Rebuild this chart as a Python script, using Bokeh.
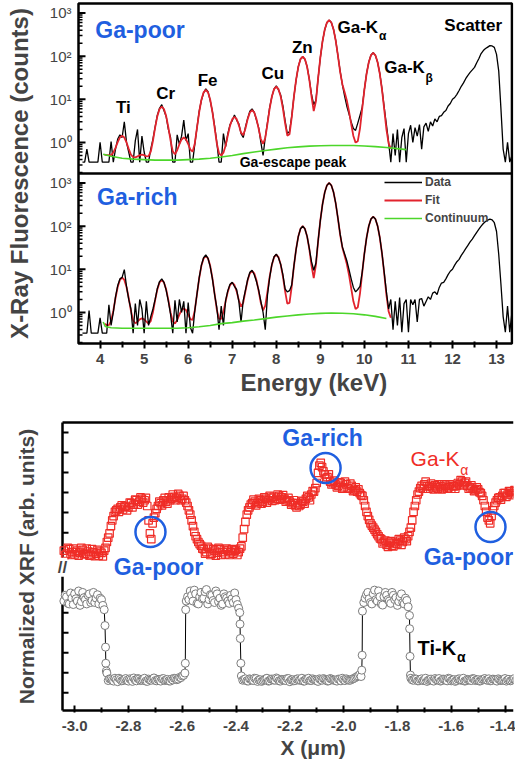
import numpy as np
from bokeh.plotting import figure
from bokeh.layouts import column
from bokeh.models import (Range1d, FixedTicker, CustomJSTickFormatter, Label, Title,
                          Legend, LegendItem)
from bokeh.embed import file_html
from bokeh.resources import INLINE

FONT = "Liberation Sans"
BLUE = "#1f5fe0"
RED = "#e2232d"
GREEN = "#4cd62a"
SQ_RED = "#ef2d27"

# ---------------- XRF spectra (counts) ----------------
spec_energy = np.round(np.arange(3.60, 13.351, 0.05), 2)   # keV
fit_energy = np.round(np.arange(4.10, 10.601, 0.05), 2)    # keV

ga_poor_data = [
    0.35, 0.35, 0.7, 0.35, 0.35, 0.35, 0.35, 0.35,
    1.0, 0.35, 0.35, 0.35, 0.35, 1.05, 0.35, 0.7, 1.2, 1.5, 1.3, 3.0, 1.0, 0.6, 0.35, 0.35, 1.1, 2.0, 0.35, 1.4,
    0.6, 0.35, 0.35, 0.7, 1.2, 2.3, 4.3, 6.2, 7.5, 5.5, 4.0, 2.0, 1.3, 0.35, 0.35, 1.5, 0.9, 1.4, 3.3, 1.1,
    1.6, 0.35, 0.35, 0.9, 2.2, 5.3, 9.5, 14, 17.5, 15, 9.3, 5.2, 2.4, 1.0, 0.35, 0.35, 1.6, 0.8, 1.6, 2.6,
    3.2, 4.3, 3.3, 2.7, 1.6, 1.3, 2.3, 3.6, 5.3, 6.0, 5.0, 3.3, 2.2, 1.0, 0.5, 1.3, 2.9, 6.5, 11.5, 17.5,
    20.5, 16.5, 12.5, 7.0, 3.2, 1.6, 1.8, 4.0, 11.5, 28, 57, 86, 97, 84, 57, 29, 13, 7.5, 9.5, 31,
    92, 220, 410, 600, 680, 600, 415, 228, 102, 45, 22, 12, 7, 4.6, 3.0, 2.1, 1.9, 2.8, 4.2, 6.5,
    17, 40, 73, 106, 120, 104, 72, 40, 17.5, 6.5, 2.6, 1.0, 0.35, 1.6, 0.5, 2.0, 0.35, 1.3, 2.1, 0.35,
    1.6, 2.5, 1.0, 2.2, 1.4, 2.6, 0.7, 2.3, 2.8, 1.8, 3.0, 2.4, 3.5, 3.0, 4.0, 4.2, 5.0, 5.5, 7.0, 8.0,
    10, 11, 13, 16, 20, 24, 30, 36, 42, 48, 55, 70, 88, 115, 135, 150, 162, 175, 172, 160,
    110, 45, 6, 0.7, 0.35, 1.0, 0.35, 0.5,
]
ga_poor_fit = [
    0.52, 0.51, 0.51, 0.51, 0.58, 0.75, 1.02, 1.31, 1.43, 1.30, 1.00, 0.71, 0.52, 0.455, 0.45, 0.475, 0.505, 0.52,
    0.506, 0.476, 0.48, 0.61, 1.09, 2.23, 4.07, 5.96, 6.79, 5.96, 4.07, 2.23, 1.10, 0.62, 0.53, 0.66, 0.91, 1.17, 1.30, 1.18,
    0.92, 0.68, 0.61, 0.95, 2.19, 5.07, 9.74, 14.5, 16.6, 14.5, 9.75, 5.08, 2.20, 0.95, 0.56, 0.50, 0.58, 0.85, 1.46, 2.45,
    3.46, 3.91, 3.49, 2.52, 1.68, 1.47, 2.10, 3.47, 4.94, 5.59, 4.96, 3.49, 2.06, 1.20, 0.93, 1.27, 2.74, 6.13, 11.6, 17.2,
    19.7, 17.2, 11.6, 6.18, 2.81, 1.44, 1.54, 3.81, 11.4, 28.7, 56.6, 85.3, 97.8, 85.3, 56.6, 28.7, 11.6, 5.34, 9.0, 30.8,
    92.8, 222, 413, 601, 681, 602, 416, 227, 101, 43.1, 22.4, 14.7, 9.53, 5.33, 2.70, 1.41, 0.99, 1.07, 2.09, 5.96,
    16.7, 39.1, 72.4, 104.9, 118.8, 104.8, 72.3, 39.0, 16.7, 5.90, 2.00, 0.95, 0.72,
]
cont_energy_poor = [4.07, 4.25, 4.5, 4.75, 5.0, 5.25, 5.5, 5.75, 6.0, 6.25, 6.5, 6.75, 7.0, 7.25, 7.5,
                    7.75, 8.0, 8.25, 8.5, 8.75, 9.0, 9.25, 9.5, 9.75, 10.0, 10.25, 10.5, 10.75, 10.95]
ga_poor_cont = [0.53, 0.48, 0.43, 0.41, 0.40, 0.39, 0.39, 0.39, 0.40, 0.41, 0.43, 0.46, 0.50, 0.55, 0.60,
                0.65, 0.70, 0.75, 0.79, 0.82, 0.84, 0.85, 0.85, 0.85, 0.83, 0.80, 0.76, 0.72, 0.68]

ga_rich_data = [
    0.33, 0.33, 0.33, 1.1, 0.33, 0.33, 0.33, 0.33,
    0.75, 0.33, 0.33, 0.33, 1.5, 0.5, 1.0, 2.3, 4.2, 6.0, 6.5, 9.8, 4.0, 2.0, 1.2, 0.33, 1.6, 0.5, 2.0, 1.2,
    0.33, 1.8, 0.5, 0.8, 1.2, 2.0, 3.6, 5.2, 6.0, 5.0, 3.3, 1.8, 0.9, 0.33, 1.9, 0.6, 2.0, 1.0, 1.8, 0.33,
    1.7, 0.45, 0.33, 1.1, 2.7, 6.4, 12.5, 18.5, 21.5, 18, 11.5, 6.0, 2.6, 1.3, 0.4, 1.4, 0.5, 1.9, 3.2, 4.5,
    5.0, 4.0, 3.4, 1.8, 0.6, 1.9, 3.3, 5.8, 8.5, 9.5, 7.5, 5.2, 3.3, 1.8, 1.0, 0.4, 2.5, 6.5, 13, 19.5,
    22.5, 18.5, 13, 7.5, 3.5, 3.0, 3.2, 4.3, 12, 29, 58, 87, 100, 86, 58, 30, 15, 9.5, 14, 46,
    136, 325, 605, 880, 1000, 880, 610, 335, 152, 65, 33, 23, 16, 10, 6, 3.8, 3.0, 3.4, 4.0, 8.5,
    23, 54, 101, 146, 165, 146, 101, 55, 23.5, 8.5, 3.0, 1.2, 2.0, 0.4, 1.8, 0.5, 2.2, 0.35, 1.6, 2.0,
    0.35, 2.0, 1.5, 2.0, 0.6, 2.0, 2.1, 1.4, 1.8, 2.3, 2.0, 2.8, 3.0, 2.6, 3.8, 4.8, 5.0, 6.0, 7.5, 9.0,
    10, 12.5, 15, 17, 21, 25, 30, 36, 43, 50, 60, 72, 85, 100, 115, 128, 138, 145, 140, 120,
    75, 22, 4.5, 0.8, 0.35, 1.4, 0.35, 1.0,
]
ga_rich_fit = [
    0.55, 0.51, 0.51, 0.64, 1.08, 2.16, 3.88, 5.66, 6.43, 5.66, 3.88, 2.16, 1.09, 0.65, 0.56, 0.61, 0.69, 0.73,
    0.69, 0.61, 0.55, 0.63, 1.01, 1.93, 3.42, 4.96, 5.63, 4.96, 3.42, 1.93, 1.00, 0.62, 0.55, 0.67, 0.89, 1.13, 1.23, 1.14,
    0.90, 0.70, 0.67, 1.11, 2.64, 6.22, 12.0, 17.9, 20.5, 17.9, 12.0, 6.26, 2.70, 1.16, 0.71, 0.71, 1.03, 1.80, 3.04, 4.32,
    4.88, 4.34, 3.08, 1.91, 1.36, 1.69, 3.11, 5.54, 8.06, 9.16, 8.07, 5.57, 3.13, 1.65, 1.12, 1.44, 3.04, 6.79, 12.8, 19.1,
    21.8, 19.1, 12.9, 6.85, 3.12, 1.60, 1.66, 3.97, 11.7, 29.4, 57.8, 87.1, 99.9, 87.1, 57.8, 29.5, 12.1, 6.24, 12.7, 45.0,
    136.3, 325.7, 607.5, 883.5, 1001, 884.4, 610, 332, 148.4, 62.5, 32.1, 20.9, 13.4, 7.48, 3.64, 1.81, 1.20, 1.31, 2.73, 8.13,
    23.2, 54.4, 100.9, 146.4, 165.8, 146.4, 100.8, 54.4, 23.1, 7.98, 2.55, 1.06, 0.75,
]
cont_energy_rich = [4.07, 4.12, 4.25, 4.5, 4.75, 5.0, 5.25, 5.5, 5.75, 6.0, 6.25, 6.5, 6.75, 7.0, 7.25,
                    7.5, 7.75, 8.0, 8.25, 8.5, 8.75, 9.0, 9.25, 9.5, 9.75, 10.0, 10.25, 10.5]
ga_rich_cont = [0.60, 0.47, 0.44, 0.43, 0.43, 0.43, 0.43, 0.43, 0.43, 0.44, 0.465, 0.50, 0.55, 0.58, 0.63,
                0.67, 0.72, 0.78, 0.83, 0.88, 0.92, 0.95, 0.97, 0.96, 0.93, 0.88, 0.81, 0.72]

energy_ticks = [4, 5, 6, 7, 8, 9, 10, 11, 12, 13]
count_tick_labels = ["10\u2070", "10\u00b9", "10\u00b2", "10\u00b3"]

# ---------------- line scan (normalized XRF, arb. units) ----------------
scan_x = np.round(np.arange(-3.04, -1.335, 0.01), 3)       # um
scan_x_mid = np.round(np.arange(-3.035, -1.340, 0.01), 3)  # um, interleaved readings
ga_ka = [
    5.55, 5.45, 5.60, 5.50, 5.42, 5.55, 5.48, 5.58, 5.45, 5.52,
    5.40, 5.50, 5.45, 5.38, 5.47, 5.55, 5.85, 6.15, 6.60, 6.90,
    7.00, 7.05, 6.98, 7.10, 7.05, 7.20, 7.15, 7.30, 7.25, 7.35,
    7.30, 7.10, 6.15, 6.50, 6.85, 7.10, 7.20, 7.30, 7.25, 7.40,
    7.35, 7.42, 7.38, 7.45, 7.35, 7.30, 7.10, 6.80, 6.40, 6.05,
    5.85, 5.72, 5.60, 5.50, 5.62, 5.45, 5.55, 5.48, 5.60, 5.50,
    5.42, 5.55, 5.50, 5.45, 5.58, 5.50, 5.70, 6.30, 6.80, 7.05,
    7.20, 7.25, 7.20, 7.30, 7.25, 7.35, 7.30, 7.38, 7.42, 7.35,
    7.45, 7.40, 7.35, 7.30, 7.25, 7.20, 7.12, 7.20, 7.15, 7.25,
    7.35, 7.40, 7.50, 7.60, 7.90, 8.50, 8.45, 8.20, 8.10, 7.95,
    7.90, 7.85, 7.80, 7.90, 7.75, 7.85, 7.70, 7.80, 7.65, 7.60,
    7.55, 7.45, 7.10, 6.75, 6.50, 6.35, 6.20, 6.05, 5.95, 5.85,
    5.75, 5.82, 5.72, 5.85, 5.78, 5.90, 5.85, 5.95, 6.05, 6.35,
    6.90, 7.30, 7.60, 7.80, 7.85, 7.78, 7.80, 7.75, 7.82, 7.70,
    7.78, 7.72, 7.80, 7.75, 7.70, 7.78, 7.80, 7.85, 7.95, 7.90,
    7.80, 7.75, 7.70, 7.65, 7.68, 7.55, 7.30, 6.90, 6.60, 6.75,
    7.10, 7.30, 7.40, 7.45, 7.55, 7.50, 7.60, 7.55, 7.62, 7.60,
    7.58,
]
ga_ka_mid = [
    5.40, 5.65, 5.40, 5.62, 5.50, 5.38, 5.65, 5.42, 5.62, 5.38,
    5.60, 5.36, 5.58, 5.52, 5.35, 5.65, 6.00, 6.40, 6.75, 6.95,
    6.90, 7.12, 7.08, 6.95, 7.22, 7.05, 7.32, 7.15, 7.40, 7.22,
    7.38, 6.60, 5.95, 6.70, 7.00, 7.25, 7.12, 7.38, 7.18, 7.30,
    7.50, 7.30, 7.52, 7.30, 7.45, 7.22, 6.95, 6.60, 6.20, 5.95,
    5.78, 5.62, 5.45, 5.68, 5.40, 5.60, 5.38, 5.65, 5.40, 5.58,
    5.62, 5.40, 5.60, 5.55, 5.40, 5.62, 6.00, 6.55, 6.95, 7.15,
    7.32, 7.12, 7.35, 7.18, 7.40, 7.22, 7.45, 7.28, 7.30, 7.50,
    7.32, 7.48, 7.25, 7.38, 7.15, 7.30, 7.05, 7.10, 7.28, 7.18,
    7.45, 7.30, 7.62, 7.72, 8.25, 8.60, 8.30, 8.05, 8.20, 7.85,
    7.98, 7.75, 7.92, 7.70, 7.95, 7.72, 7.88, 7.62, 7.75, 7.68,
    7.48, 7.30, 6.90, 6.62, 6.42, 6.28, 6.12, 5.98, 5.80, 5.90,
    5.68, 5.88, 5.70, 5.80, 5.95, 5.75, 6.00, 5.88, 6.20, 6.60,
    7.10, 7.50, 7.72, 7.70, 7.95, 7.70, 7.88, 7.68, 7.75, 7.85,
    7.68, 7.85, 7.70, 7.85, 7.80, 7.70, 7.90, 8.00, 7.82, 7.95,
    7.70, 7.82, 7.62, 7.75, 7.58, 7.45, 7.10, 6.70, 6.50, 6.95,
    7.22, 7.38, 7.32, 7.55, 7.42, 7.62, 7.48, 7.65, 7.52, 7.68,
]
ti_ka = [
    3.80, 3.95, 3.70, 3.90, 4.05, 3.80, 3.65, 4.10, 3.85, 4.00, 3.75, 4.10, 3.90, 3.70, 3.85, 3.50,
    1.30,
    1.10, 1.05, 1.12, 1.00, 1.08, 1.04, 1.11, 1.02, 1.07, 1.13, 1.03, 1.09, 1.05, 1.12, 1.01, 1.06,
    1.10, 1.04, 1.08, 1.02, 1.11, 1.06, 1.03, 1.09, 1.12, 1.07, 1.15, 1.20,
    1.30,
    3.95, 4.15, 3.80, 4.05, 3.70, 4.10, 3.90, 4.20, 3.85, 4.00, 3.75, 4.05, 3.90, 3.70, 3.95, 3.80, 4.00, 3.75, 3.85,
    3.55,
    1.20,
    1.08, 1.03, 1.10, 1.05, 1.12, 1.01, 1.07, 1.04, 1.10, 1.02, 1.09, 1.06, 1.13, 1.03, 1.08, 1.05, 1.11, 1.00, 1.07, 1.04,
    1.10, 1.06, 1.02, 1.09, 1.12, 1.04, 1.07, 1.03, 1.10, 1.05, 1.08, 1.02, 1.11, 1.06, 1.04, 1.09, 1.03, 1.07, 1.10, 1.05,
    1.08, 1.12, 1.18, 1.25,
    3.45,
    3.90, 4.10, 3.75, 4.05, 3.85, 4.15, 3.70, 3.95, 4.00, 3.80, 4.10, 3.85, 3.65, 3.95, 3.75, 3.90, 3.60,
    1.12, 1.05, 1.09, 1.03, 1.10, 1.06, 1.01, 1.08, 1.04, 1.11, 1.06, 1.02, 1.09, 1.05, 1.12, 1.03, 1.07, 1.04, 1.10, 1.06,
    1.02, 1.08, 1.05, 1.11, 1.04, 1.07, 1.03, 1.09, 1.06, 1.10, 1.04, 1.08, 1.02, 1.07, 1.05, 1.11, 1.06, 1.03, 1.09, 1.05,
    1.08, 1.04,
]
ti_ka_mid = [
    4.00, 3.72, 4.08, 3.68, 3.88, 4.15, 3.78, 3.92, 3.70, 4.05, 3.82, 3.75, 4.02, 3.90, 3.65,
    2.20,
    1.04, 1.09, 1.02, 1.07, 1.12, 1.03, 1.08, 1.05, 1.10, 1.01, 1.06, 1.11, 1.04, 1.08, 1.02, 1.09, 1.05, 1.13, 1.03, 1.07,
    1.10, 1.04, 1.08, 1.02, 1.06, 1.11, 1.09, 1.14, 1.22,
    3.80,
    3.85, 4.00, 4.18, 3.72, 3.95, 3.88, 4.12, 3.70, 4.02, 3.82, 4.15, 3.78, 3.65, 4.05, 3.90, 3.72, 3.88, 4.08, 3.68,
    3.00,
    1.05, 1.10, 1.02, 1.08, 1.04, 1.11, 1.06, 1.01, 1.07, 1.12, 1.03, 1.09, 1.05, 1.10, 1.02, 1.07, 1.04, 1.11, 1.06, 1.03,
    1.09, 1.05, 1.12, 1.02, 1.08, 1.04, 1.10, 1.06, 1.01, 1.07, 1.11, 1.05, 1.03, 1.09, 1.06, 1.02, 1.08, 1.12, 1.04, 1.07,
    1.05, 1.10, 1.15, 1.20,
    1.18,
    3.75, 4.02, 3.88, 3.70, 4.18, 3.80, 3.95, 3.66, 4.10, 3.85, 3.72, 4.00, 3.92, 3.78, 4.05, 3.70, 3.82,
    3.30,
    1.06, 1.10, 1.03, 1.08, 1.04, 1.12, 1.05, 1.09, 1.02, 1.07, 1.11, 1.04, 1.08, 1.03, 1.10, 1.06, 1.01, 1.09, 1.05, 1.12,
    1.03, 1.07, 1.04, 1.10, 1.06, 1.02, 1.08, 1.11, 1.05, 1.03, 1.09, 1.06, 1.10, 1.04, 1.07, 1.02, 1.08, 1.05, 1.11, 1.06,
    1.04,
]
# extra Ti-K points measured on the steep edges
ti_edge_x = [-2.887, -2.884, -2.882, -2.5885, -2.587, -2.386, -2.384, -2.382, -1.9325, -1.931, -1.7545, -1.753, -1.7515]
ti_edge_y = [2.95, 1.64, 1.37, 1.64, 3.50, 3.40, 2.50, 1.64, 1.40, 1.92, 2.84, 1.88, 1.23]
# circled spots
spot_x = [-2.718, -2.067, -1.454]
spot_y = [6.2, 8.42, 6.37]
scan_ticks = [-3.0, -2.8, -2.6, -2.4, -2.2, -2.0, -1.8, -1.6, -1.4]

FRAME_LEFT = 40       # both figures share this left border (frames are aligned)

# ======================= spectra figure =======================
SHIFT = 3.94          # vertical offset (decades) of the upper (Ga-poor) panel
YLO = -0.72
YHI = YLO + 2 * SHIFT
EL, ER = 3.51, 13.35  # energy span of the spectrum box
PXE = 44.05           # px per keV
PXD = 43.15           # px per decade
E0 = EL - 38 / PXE    # energy at the frame's left edge


def lower(v):
    return np.log10(np.asarray(v, dtype=float))


def upper(v):
    return np.log10(np.asarray(v, dtype=float)) + SHIFT


p1 = figure(width=515, height=405, output_backend="svg", toolbar_location=None,
            x_range=Range1d(E0, E0 + 473 / PXE),
            y_range=Range1d(YLO - 2 / PXD, YHI + 2 / PXD),
            min_border_left=FRAME_LEFT, min_border_right=2, min_border_top=1, min_border_bottom=60,
            background_fill_color="white", border_fill_color="white")
p1.grid.visible = False
p1.outline_line_color = None

# box and panel divider
p1.quad(left=[EL], right=[ER], bottom=[YLO], top=[YHI], fill_alpha=0,
        line_color="black", line_width=2.5)
p1.segment(x0=[EL], x1=[ER], y0=[YLO + SHIFT], y1=[YLO + SHIFT], line_color="black", line_width=2.5)

# upper panel: Ga-poor
p1.line(spec_energy, upper(ga_poor_data), line_color="black", line_width=1.3)
p1.line(fit_energy, upper(ga_poor_fit), line_color=RED, line_width=1.8)
p1.line(cont_energy_poor, upper(ga_poor_cont), line_color=GREEN, line_width=1.6)

# lower panel: Ga-rich
r_fit = p1.line(fit_energy, lower(ga_rich_fit), line_color=RED, line_width=1.8)
r_data = p1.line(spec_energy, lower(ga_rich_data), line_color="black", line_width=1.3)
r_cont = p1.line(cont_energy_rich, lower(ga_rich_cont), line_color=GREEN, line_width=1.6)

legend = Legend(items=[LegendItem(label="Data", renderers=[r_data]),
                       LegendItem(label="Fit", renderers=[r_fit]),
                       LegendItem(label="Continuum", renderers=[r_cont])],
                location=(344, 118), orientation="vertical", padding=0, spacing=0, margin=0,
                glyph_width=38, glyph_height=18, label_height=18, label_standoff=3,
                label_text_font=FONT, label_text_font_size="12px", label_text_font_style="bold",
                border_line_color=None, background_fill_alpha=0)
p1.add_layout(legend)

# count axis: ticks and labels drawn on the box edge
ymaj = [float(k) for k in range(4)] + [k + SHIFT for k in range(4)]
ymin = []
for base in (0.0, SHIFT):
    for n in (-1, 0, 1, 2):
        for m in range(2, 10):
            v = n + np.log10(m)
            if YLO < v < YLO + SHIFT:
                ymin.append(float(v + base))
p1.segment(x0=[EL] * len(ymaj), x1=[EL + 7 / PXE] * len(ymaj), y0=ymaj, y1=ymaj,
           line_color="black", line_width=2)
p1.segment(x0=[EL] * len(ymin), x1=[EL + 4 / PXE] * len(ymin), y0=ymin, y1=ymin,
           line_color="black", line_width=1.5)
for i, yv in enumerate(ymaj):
    p1.add_layout(Label(x=EL - 7 / PXE, y=yv, text=count_tick_labels[i % 4], text_font=FONT,
                        text_font_size="15px", text_align="right", text_baseline="middle"))

ya = p1.yaxis[0]
ya.ticker = FixedTicker(ticks=[])
ya.axis_line_color = None
ya.major_tick_line_color = None
ya.minor_tick_line_color = None
ya.major_label_standoff = 0
ya.axis_label = "X-Ray Fluorescence (counts)"
ya.axis_label_text_font = FONT
ya.axis_label_text_font_style = "bold"
ya.axis_label_text_font_size = "24px"
ya.axis_label_standoff = 8

xa = p1.xaxis[0]
xa.ticker = FixedTicker(ticks=energy_ticks, minor_ticks=[t + 0.5 for t in range(4, 13)])
xa.axis_line_color = None
xa.major_label_text_font = FONT
xa.major_label_text_font_style = "bold"
xa.major_label_text_font_size = "15px"
xa.major_label_standoff = 5
xa.major_tick_line_width = 2
xa.minor_tick_line_width = 2
xa.major_tick_in = 5
xa.major_tick_out = 3
xa.minor_tick_in = 4
xa.minor_tick_out = 2

p1.add_layout(Title(text="Energy (keV)", align="left", offset=200, text_font=FONT,
                    text_font_size="24px", text_font_style="bold", standoff=0), "below")


def lab(fig, x, y, text, size, color="black", style="bold", align="center"):
    fig.add_layout(Label(x=x, y=y, text=text, text_font=FONT, text_font_size=size,
                         text_font_style=style, text_color=color, text_align=align,
                         text_baseline="middle"))


lab(p1, 3.89, 2.61 + SHIFT, "Ga-poor", "23px", BLUE, align="left")
lab(p1, 3.93, 2.68, "Ga-rich", "23px", BLUE, align="left")
lab(p1, 4.53, 0.81 + SHIFT, "Ti", "17px")
lab(p1, 5.49, 1.13 + SHIFT, "Cr", "17px")
lab(p1, 6.44, 1.43 + SHIFT, "Fe", "17px")
lab(p1, 7.92, 1.59 + SHIFT, "Cu", "17px")
lab(p1, 8.59, 2.19 + SHIFT, "Zn", "17px")
lab(p1, 9.39, 2.66 + SHIFT, "Ga-K", "17px", align="left")
lab(p1, 10.33, 2.47 + SHIFT, "\u03b1", "12px", align="left")
lab(p1, 10.45, 1.73 + SHIFT, "Ga-K", "17px", align="left")
lab(p1, 11.39, 1.50 + SHIFT, "\u03b2", "12px", align="left")
lab(p1, 12.47, 2.72 + SHIFT, "Scatter", "17px")
lab(p1, 7.17, -0.46 + SHIFT, "Ga-escape peak", "14px", align="left")

# ======================= line-scan figure =======================
XL = -3.045           # scan position at the drawn left axis
PXS = 269.0           # px per um
PXY = 28.8            # px per arb. unit
X0 = XL - 22 / PXS    # position at the frame's left edge

p2 = figure(width=515, height=357, output_backend="svg", toolbar_location=None,
            x_range=Range1d(X0, X0 + 473 / PXS), y_range=Range1d(-2 / PXY, 10 + 2 / PXY),
            min_border_left=FRAME_LEFT, min_border_right=2, min_border_top=15, min_border_bottom=50,
            background_fill_color="white", border_fill_color="white")
p2.grid.visible = False
p2.outline_line_color = None

XR = X0 + 473 / PXS
# frame lines: left axis, top and bottom
p2.segment(x0=[XL, XL, XL], x1=[XL, XR, XR], y0=[0, 10, 0], y1=[10, 10, 0],
           line_color="black", line_width=2.5)
left_ticks = [0.616 + 0.695 * k for k in list(range(0, 5)) + list(range(8, 14))]
p2.segment(x0=[XL] * len(left_ticks), x1=[XL + 6 / PXS] * len(left_ticks), y0=left_ticks,
           y1=left_ticks, line_color="black", line_width=2)

ti_x = np.concatenate([scan_x, scan_x_mid, np.array(ti_edge_x)])
ti_y = np.concatenate([np.array(ti_ka, dtype=float), np.array(ti_ka_mid, dtype=float),
                       np.array(ti_edge_y)])
order = np.argsort(ti_x, kind="stable")
ti_x, ti_y = ti_x[order], ti_y[order]

ga_x = np.concatenate([scan_x, scan_x_mid])
ga_y = np.concatenate([np.array(ga_ka, dtype=float), np.array(ga_ka_mid, dtype=float)])
order = np.argsort(ga_x, kind="stable")
ga_x, ga_y = ga_x[order], ga_y[order]

p2.line(ti_x, ti_y, line_color="black", line_width=1)
p2.scatter(ti_x, ti_y, marker="circle", size=8, line_color="#7c7c7c", fill_color="white",
           line_width=1)
p2.scatter(ga_x, ga_y, marker="square", size=7.5, line_color=SQ_RED, fill_alpha=0,
           line_width=1.2)
p2.scatter(spot_x, spot_y, marker="circle", size=30, line_color=BLUE, fill_alpha=0,
           line_width=2.5)

bx = p2.xaxis[0]
bx.ticker = FixedTicker(ticks=scan_ticks, minor_ticks=[round(t - 0.1, 1) for t in scan_ticks[1:]])
bx.formatter = CustomJSTickFormatter(code="return tick.toFixed(1);")
bx.axis_line_color = None
bx.major_label_text_font = FONT
bx.major_label_text_font_style = "bold"
bx.major_label_text_font_size = "15px"
bx.major_label_standoff = 8
bx.major_tick_line_width = 2
bx.minor_tick_line_width = 2
bx.major_tick_in = 7
bx.major_tick_out = 0
bx.minor_tick_in = 5
bx.minor_tick_out = 0

by = p2.yaxis[0]
by.ticker = FixedTicker(ticks=[])
by.axis_line_color = None
by.major_tick_line_color = None
by.minor_tick_line_color = None
by.major_label_standoff = 0
by.axis_label = "Normalized XRF (arb. units)"
by.axis_label_text_font = FONT
by.axis_label_text_font_style = "bold"
by.axis_label_text_font_size = "21px"
by.axis_label_standoff = 3

p2.add_layout(Title(text="X (\u03bcm)", align="left", offset=240, text_font=FONT,
                    text_font_size="21px", text_font_style="bold", standoff=0), "below")

# axis break mark
p2.add_layout(Label(x=XL, y=4.97, text="//", text_font=FONT, text_font_size="17px",
                    text_font_style="bold", text_align="center", text_baseline="middle",
                    background_fill_color="white"))

lab(p2, -2.078, 9.45, "Ga-rich", "23px", BLUE)
lab(p2, -2.688, 4.97, "Ga-poor", "23px", BLUE)
lab(p2, -1.536, 5.34, "Ga-poor", "23px", BLUE)
lab(p2, -1.751, 8.75, "Ga-K", "21px", SQ_RED, style="normal", align="left")
lab(p2, -1.566, 8.36, "\u03b1", "14px", SQ_RED, style="normal", align="left")
lab(p2, -1.725, 2.16, "Ti-K", "20px", align="left")
lab(p2, -1.578, 1.85, "\u03b1", "14px", align="left")

layout = column(p1, p2)
open("out.html", "w").write(file_html(layout, INLINE))
